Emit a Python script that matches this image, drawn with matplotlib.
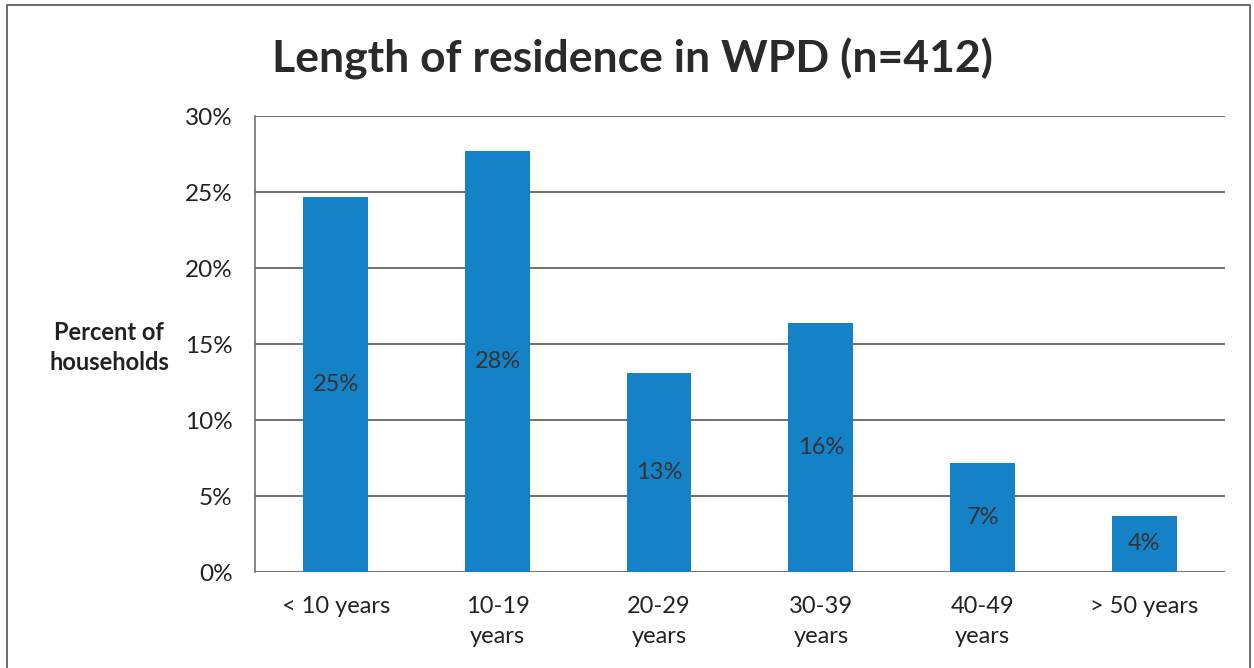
import numpy as np
import matplotlib
matplotlib.use("Agg")
import matplotlib.pyplot as plt
from matplotlib.patches import Rectangle

plt.rcParams['font.family'] = ['Lato', 'DejaVu Sans']

# data
categories = ["< 10 years", "10-19\nyears", "20-29\nyears", "30-39\nyears", "40-49\nyears", "> 50 years"]
values = [24.7, 27.7, 13.1, 16.4, 7.2, 3.7]
labels = ["25%", "28%", "13%", "16%", "7%", "4%"]
yticks = [0, 5, 10, 15, 20, 25, 30]

fig = plt.figure(figsize=(12.54, 6.68), dpi=100)
ax = fig.add_axes([0.2033, 0.1437, 0.7736, 0.6826])

x = np.arange(len(categories))
bars = ax.bar(x, values, width=0.4, color='#1581c6', zorder=3)

for b, lab in zip(bars, labels):
    ax.text(b.get_x() + b.get_width() / 2, b.get_height() / 2, lab,
            ha='center', va='center', fontsize=17, color='#333333', zorder=4)

ax.set_xlim(-0.5, 5.5)
ax.set_ylim(0, 30)
ax.set_yticks(yticks)
ax.set_yticklabels([f"{t}%" for t in yticks], fontsize=17.5, color='#222222')
ax.set_xticks(x)
ax.set_xticklabels(categories, fontsize=17, color='#222222', linespacing=1.55)
ax.tick_params(axis='y', length=0, pad=16)
ax.tick_params(axis='x', length=0, pad=17)

ax.yaxis.grid(True, color='#707070', linewidth=1.4, zorder=0)
for s in ['top', 'right', 'bottom']:
    ax.spines[s].set_visible(False)
ax.spines['left'].set_color('#707070')
ax.spines['left'].set_linewidth(1.2)

fig.text(0.504, 0.912, "Length of residence in WPD (n=412)", ha='center', va='center',
         fontsize=32, fontweight='bold', color='#2a2a2a')
fig.text(0.087, 0.48, "Percent of\nhouseholds", ha='center', va='center',
         fontsize=17, fontweight='bold', color='#222222', linespacing=1.4)

# outer frame of the chart
fig.patches.append(Rectangle((0.0056, -0.05), 0.9912, 1.0425, transform=fig.transFigure,
                             fill=False, edgecolor='#555555', linewidth=1.2))

fig.savefig("out.png", dpi=100)
